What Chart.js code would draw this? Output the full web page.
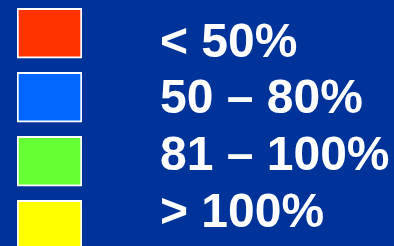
<!DOCTYPE html>
<html>
<head>
<meta charset="utf-8">
<script src="https://cdn.jsdelivr.net/npm/chart.js@4"></script>
<style>
  html, body { margin: 0; padding: 0; background: #003399; }
  #wrap { width: 394px; height: 246px; position: relative; }
</style>
</head>
<body>
<div id="wrap"><canvas id="legend"></canvas></div>
<script>
// ===== DATA =====
const categories = ['< 50%', '50 – 80%', '81 – 100%', '> 100%'];
const values = [1, 1, 1, 1];
const colors = ['#ff3300', '#0066ff', '#66ff33', '#ffff00'];

// ===== CHART =====
const boxes = categories.map((c, i) => ({ y: i, x: values[i] }));

new Chart(document.getElementById('legend'), {
  type: 'bar',
  data: {
    datasets: [{
      data: boxes,
      backgroundColor: colors,
      borderColor: '#ffffff',
      borderWidth: 2,
      borderSkipped: false,
      barThickness: 50,
      xAxisID: 'x',
      yAxisID: 'y'
    }]
  },
  options: {
    indexAxis: 'y',
    responsive: true,
    maintainAspectRatio: false,
    animation: false,
    layout: { padding: { left: 17, right: 0, top: 0, bottom: 0 } },
    plugins: { legend: { display: false }, tooltip: { enabled: false } },
    scales: {
      x: { type: 'linear', display: false, min: 0, max: 1 },
      y: { type: 'linear', display: false, offset: false, reverse: true, min: -0.52, max: 3.324 },
      y2: {
        type: 'linear',
        position: 'right',
        offset: false,
        reverse: true,
        min: -0.763,
        max: 3.57,
        grid: { display: false, drawTicks: false },
        border: { display: false },
        afterBuildTicks: (s) => { s.ticks = categories.map((_, i) => ({ value: i })); },
        afterFit: (s) => {
          // label text sits 78px right of the boxes; keep that out of the vertical padding
          s.width = 312;
          s.paddingTop = 0;
          s.paddingBottom = 0;
        },
        ticks: {
          padding: 78,
          autoSkip: false,
          color: '#ffffff',
          font: { family: "'Liberation Sans', Arial, sans-serif", size: 48, weight: 'bold' },
          callback: (v) => categories[v]
        }
      }
    }
  }
});
</script>
</body>
</html>
